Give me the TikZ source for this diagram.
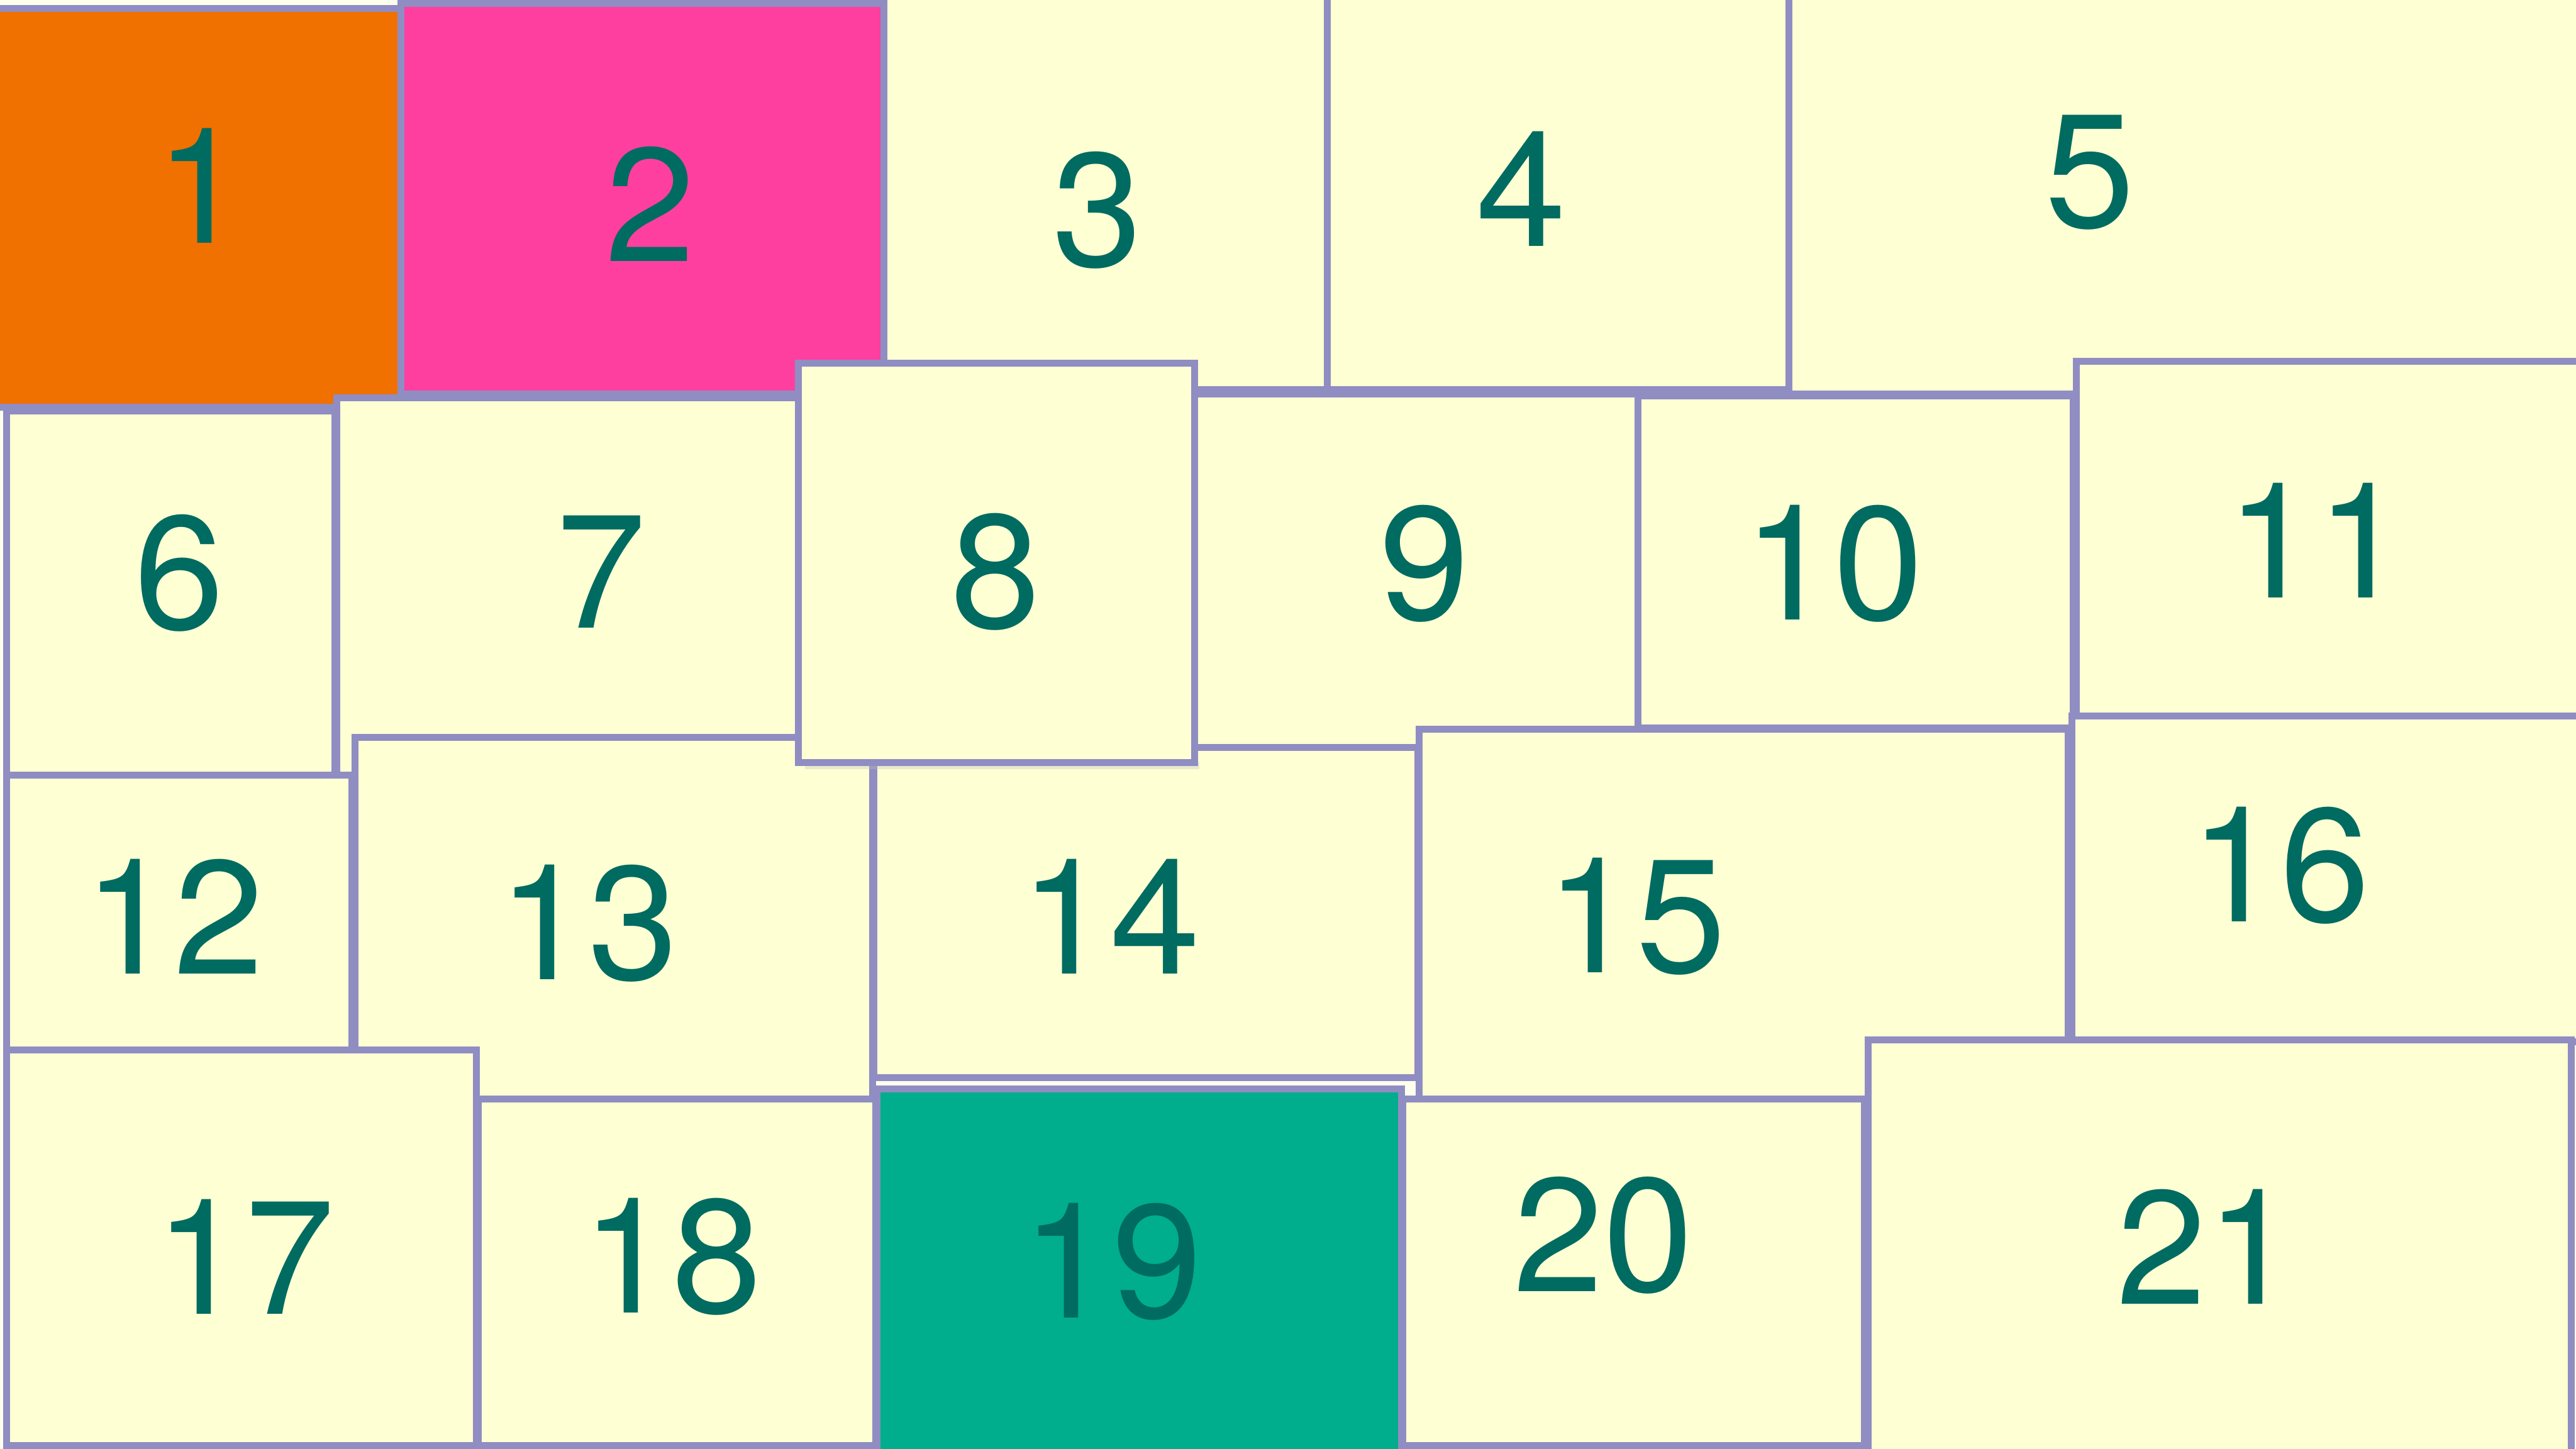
\documentclass[tikz,border=0pt]{standalone}
\usepackage{fontspec}
\setmainfont{TeX Gyre Heros}
\definecolor{cream}{HTML}{FFFFD4}
\definecolor{edge}{HTML}{8F8DC2}
\definecolor{numtxt}{HTML}{006B60}
\definecolor{cOrange}{HTML}{F07000}
\definecolor{cPink}{HTML}{FF3FA0}
\definecolor{cGreen}{HTML}{00AD8C}
\definecolor{bgc}{HTML}{FFFFEE}
\tikzset{
  cardbox/.style={fill=#1, draw=edge, line width=1.2pt},
  cardnum/.style={text=numtxt, font=\fontsize{28}{32}\selectfont, inner sep=0pt}
}
% #1 fill, #2 x1, #3 y1, #4 x2, #5 y2, #6 label, #7 cx, #8 cy
\newcommand\stickycard[8]{%
  \path[cardbox=#1] (#2,#3) rectangle (#4,#5);
  \node[cardnum] (n#6) at (#7,#8) {#6};
}
\begin{document}
\begin{tikzpicture}[x=0.01cm,y=-0.01cm]
\useasboundingbox (0,0) rectangle (1568,882);
\clip (0,0) rectangle (1568,882);
\fill[bgc] (0,0) rectangle (1568,882);
\stickycard{cOrange}{-10}{5}{244}{248}{1}{122}{113}
\stickycard{cPink}{244}{2}{538}{240}{2}{396}{124}
\stickycard{cream}{538}{-10}{808}{237}{3}{668}{128}
\stickycard{cream}{808}{-10}{1089}{237}{4}{926}{115}
\stickycard{cream}{1089}{-10}{1580}{240}{5}{1272}{105}
\stickycard{cream}{4}{250}{204}{472}{6}{109}{349}
\stickycard{cream}{205}{242}{487}{474}{7}{366}{348}
\stickycard{cream}{727}{240}{997}{455}{9}{867}{343}
\stickycard{cream}{997}{241}{1262}{443}{10}{1116}{343}
\stickycard{cream}{1264}{220}{1580}{437}{11}{1410}{329}
\stickycard{cream}{4}{472}{214}{640}{12}{106}{558}
\stickycard{cream}{216}{449}{531}{669}{13}{358}{562}
\stickycard{cream}{532}{455}{863}{656}{14}{676}{558}
\stickycard{cream}{864}{444}{1259}{670}{15}{996}{558}
\stickycard{cream}{1261}{436}{1580}{634}{16}{1388}{527}
\stickycard{cream}{4}{639}{290}{880}{17}{149}{765}
\stickycard{cream}{291}{669}{533}{880}{18}{409}{765}
\stickycard{cream}{854}{669}{1135}{880}{20}{976}{752}
\stickycard{cream}{1137}{633}{1565}{892}{21}{1343}{759}
\stickycard{cGreen}{534}{663}{853}{892}{19}{677}{768}
\fill[black!25, opacity=0.35] (490,464) rectangle (730,468);
\stickycard{cream}{486}{221}{727}{464}{8}{606}{348}
\end{tikzpicture}
\end{document}
